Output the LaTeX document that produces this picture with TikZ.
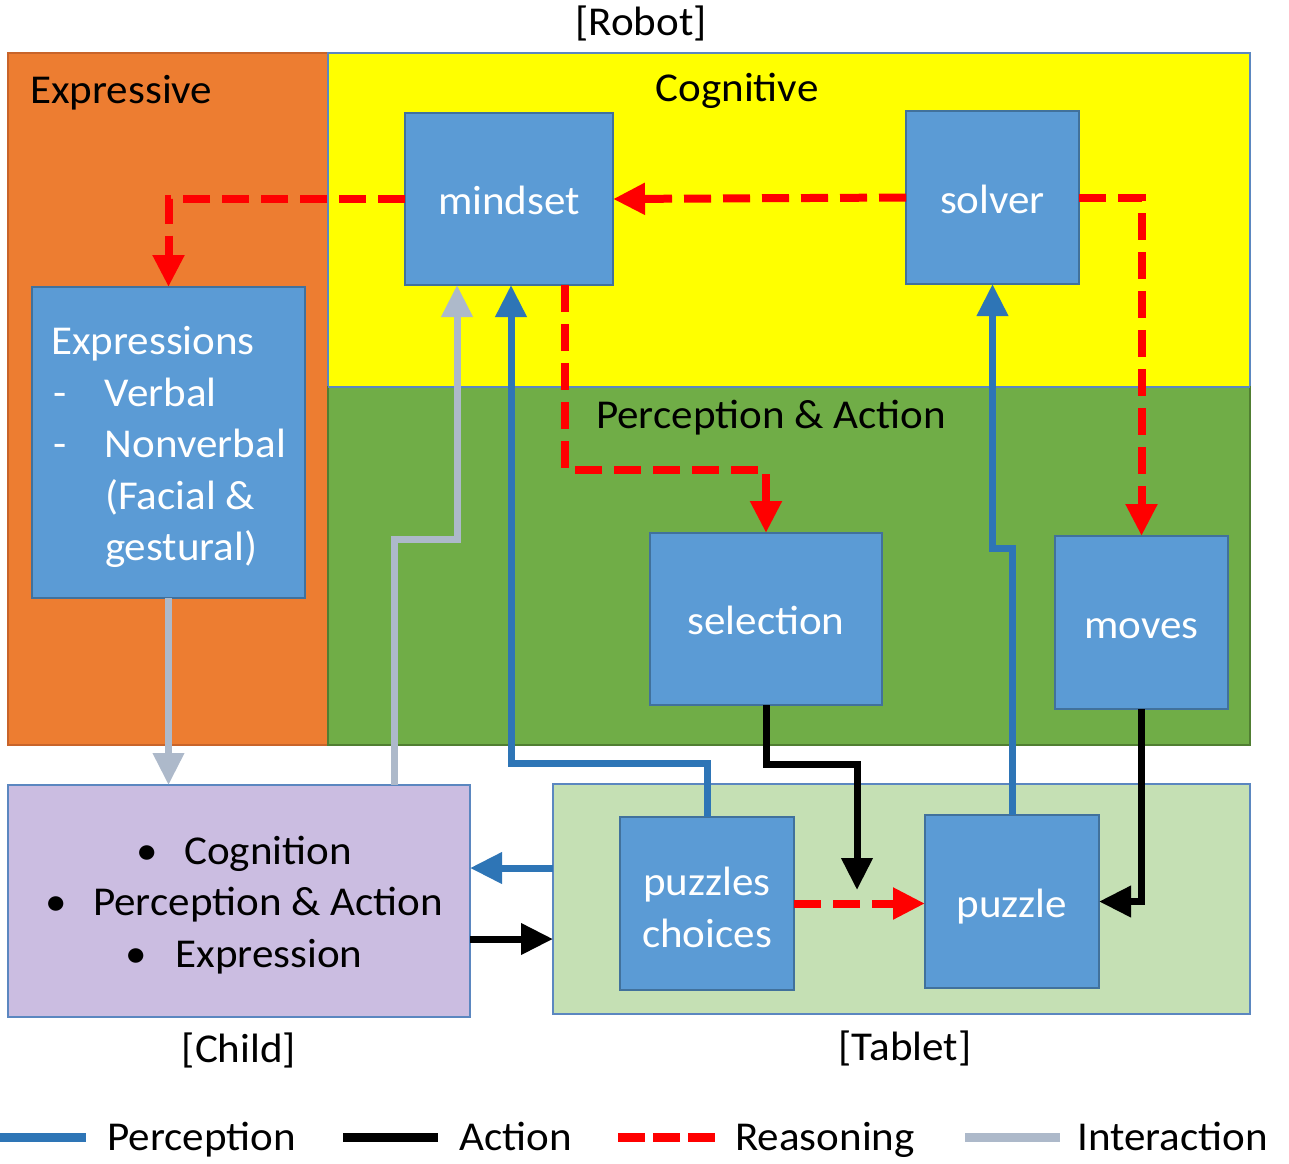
\documentclass[tikz,border=0pt]{standalone}
\usepackage{fontspec}
\setmainfont[FakeStretch=1.05]{Carlito}
\usetikzlibrary{arrows.meta}
\definecolor{orreg}{HTML}{ED7D31}
\definecolor{orline}{HTML}{C8642A}
\definecolor{yelreg}{HTML}{FFFF00}
\definecolor{grreg}{HTML}{70AD47}
\definecolor{grline}{HTML}{507E32}
\definecolor{bluebox}{HTML}{5B9BD5}
\definecolor{blueline}{HTML}{41719C}
\definecolor{regline}{HTML}{5B87C0}
\definecolor{lavender}{HTML}{CBBDE1}
\definecolor{ltgreen}{HTML}{C5E0B4}
\definecolor{percblue}{HTML}{2E75B6}
\definecolor{intgray}{HTML}{ADB9CA}
\definecolor{reasred}{HTML}{FF0000}
\begin{document}
\begin{tikzpicture}[x=1pt,y=-1pt,
  font=\fontsize{41}{51.5}\selectfont,
  region/.style={draw, line width=1.5pt, inner sep=0pt, outer sep=0pt},
  bbox/.style={draw=blueline, fill=bluebox, line width=2pt, text=white, inner sep=0pt, outer sep=0pt},
  oneline/.style={text height=31pt, text depth=0pt},
  tip/.style={-{Triangle[width=30pt,length=32pt]}},
  perc/.style={draw=percblue, line width=7pt, tip},
  act/.style={draw=black, line width=7pt, tip},
  reas/.style={draw=reasred, line width=8pt, dash pattern=on 27pt off 12pt, tip},
  inter/.style={draw=intgray, line width=7pt, tip},
  lbl/.style={anchor=base, inner sep=0pt}
]
\useasboundingbox (0,0) rectangle (1289,1163);

% regions
\node[region, draw=orline, fill=orreg, minimum width=320pt, minimum height=692pt] (exprreg) at (168,399) {};
\node[region, draw=regline, fill=yelreg, minimum width=922pt, minimum height=334pt] (cogreg) at (789,220) {};
\node[region, draw=grline, fill=grreg, minimum width=922pt, minimum height=358pt] (pareg) at (789,566) {};
\draw[regline, line width=1.5pt] (pareg.north west) -- (pareg.north east);
\node[region, draw=regline, fill=lavender, minimum width=462pt, minimum height=232pt] (child) at (239,901) {};
\node[region, draw=regline, fill=ltgreen, minimum width=697pt, minimum height=230pt] (tablet) at (901.5,899) {};

% region labels
\node[lbl] (robotlbl) at (641,35) {[Robot]};
\node[lbl, anchor=base west] (exprlbl) at (30,103) {Expressive};
\node[lbl] (coglbl) at (737,101) {Cognitive};
\node[lbl] (palbl) at (771,428) {Perception \& Action};
\node[lbl] (childlbl) at (239,1062) {[Child]};
\node[lbl] (tabletlbl) at (905,1060) {[Tablet]};

% child text
\node[align=center, inner sep=0pt] (childtxt) at (244,905) {\makebox[48pt][l]{•}Cognition\\ \makebox[48pt][l]{•}Perception \& Action\\ \makebox[50pt][l]{•}Expression};

% blue boxes
\node[bbox, oneline, minimum width=208pt, minimum height=172pt] (mindset) at (509,199) {mindset};
\node[bbox, oneline, minimum width=173pt, minimum height=173pt] (solver) at (992.5,197.5) {solver};
\node[bbox, minimum width=273pt, minimum height=311pt, align=left] (expressions) at (168.5,442.5)
  {\rule{0pt}{38pt}Expressions\\ \makebox[54pt][l]{\hspace*{2pt}-}Verbal\\ \makebox[54pt][l]{\hspace*{2pt}-}Nonverbal\\ \hspace*{54pt}(Facial \&\\ \hspace*{54pt}gestural)};
\node[bbox, oneline, minimum width=232pt, minimum height=172pt] (selection) at (766,619) {selection};
\node[bbox, oneline, minimum width=173pt, minimum height=173pt] (moves) at (1141.5,622.5) {moves};
\node[bbox, minimum width=174pt, minimum height=173pt, align=center] (choices) at (707,903.5) {\rule{0pt}{36pt}puzzles\\choices};
\node[bbox, oneline, minimum width=174pt, minimum height=173pt] (puzzle) at (1012,901.5) {puzzle};

% reasoning
\draw[reas] (mindset.west) -| (expressions.north);
\draw[reas] (solver.west) -- (mindset.east);
\draw[reas] ([xshift=56pt]mindset.south) -- ++(0,185) -| (selection.north);
\draw[reas] (solver.east) -| (moves.north);
\draw[reas] (choices.east) -- (choices.east -| puzzle.west);

% perception
\draw[perc] (choices.north) -- ++(0,-54) -| ([xshift=2pt]mindset.south);
\draw[perc] (puzzle.north) -- ++(0,-267) -| (solver.south);
\draw[perc] ([yshift=31pt]tablet.west) -- ([yshift=33pt]child.east);

% action
\coordinate (selend) at (857,890);
\draw[act] (selection.south) -- ++(0,59) -| (selend);
\draw[act] (moves.south) |- (puzzle.east);
\draw[act] ([yshift=-38pt]child.east) -- ([yshift=-40pt]tablet.west);

% interaction
\draw[inter] (expressions.south) -- (child.north -| expressions.south);
\draw[inter] ([xshift=155pt]child.north) -- ++(0,-246) -| ([xshift=-52pt]mindset.south);

% legend
\draw[percblue, line width=9pt] (0,1137) -- (86,1137);
\node[lbl, anchor=base west] (lperc) at (107,1150) {Perception};
\draw[black, line width=9pt] (343,1137) -- (438,1137);
\node[lbl, anchor=base west] (lact) at (459,1150) {Action};
\draw[reasred, line width=9pt, dash pattern=on 27pt off 8pt] (618,1137) -- (715,1137);
\node[lbl, anchor=base west] (lreas) at (735,1150) {Reasoning};
\draw[intgray, line width=9pt] (965,1137) -- (1060,1137);
\node[lbl, anchor=base west] (linter) at (1077,1150) {Interaction};
\end{tikzpicture}
\end{document}
